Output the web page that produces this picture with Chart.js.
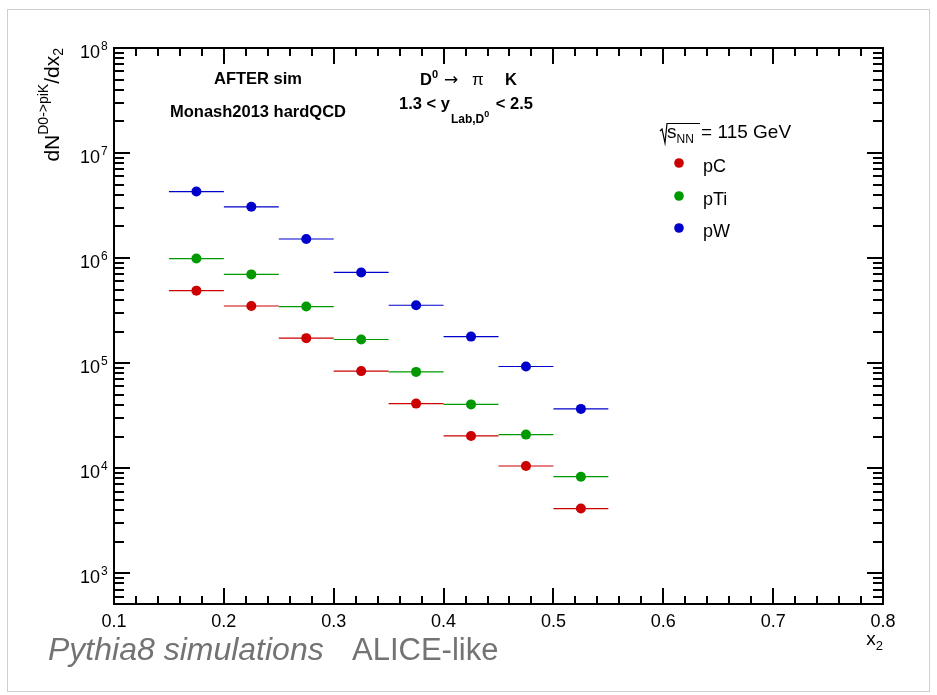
<!DOCTYPE html>
<html>
<head>
<meta charset="utf-8">
<script src="https://cdn.jsdelivr.net/npm/chart.js@4.4.1/dist/chart.umd.min.js"></script>
<style>
  html, body { margin: 0; padding: 0; background: #ffffff; }
  #wrap { position: relative; width: 937px; height: 695px; }
  canvas { display: block; }
</style>
</head>
<body>
<div id="wrap"><canvas id="c" width="937" height="695"></canvas></div>
<script>
// ---------------- data ----------------
const binCenters = [0.175, 0.225, 0.275, 0.325, 0.375, 0.425, 0.475, 0.525];
const binHalfWidths = [0.025, 0.025, 0.025, 0.025, 0.025, 0.025, 0.025, 0.025];
const pC  = [4.9e5, 3.5e5, 1.73e5, 8.4e4, 4.12e4, 2.03e4, 1.05e4, 4.13e3];
const pTi = [9.9e5, 7.0e5, 3.46e5, 1.68e5, 8.26e4, 4.05e4, 2.09e4, 8.3e3];
const pW  = [4.3e6, 3.08e6, 1.52e6, 7.3e5, 3.56e5, 1.79e5, 9.3e4, 3.67e4];
const seriesNames = ['pC', 'pTi', 'pW'];
const xTickValues = [0.1, 0.2, 0.3, 0.4, 0.5, 0.6, 0.7, 0.8];
const xTickLabels = ['0.1', '0.2', '0.3', '0.4', '0.5', '0.6', '0.7', '0.8'];
const yTickExponents = [3, 4, 5, 6, 7, 8];
const xRange = [0.1, 0.8];
const yRange = [510, 1e8];

// ---------------- styles ----------------
const colors = ['#cc0000', '#009900', '#0000cc'];
const FONT = '"Liberation Sans", Arial, Helvetica, sans-serif';

function toPoints(vals) {
  return binCenters.map((x, i) => ({ x: x, y: vals[i], ex: binHalfWidths[i] }));
}

function drawRich(ctx, x, y, pieces) {
  let cx = x;
  for (const p of pieces) {
    ctx.font = p.f;
    if (p.x !== undefined) cx = p.x;
    ctx.fillText(p.t, cx, y + (p.dy || 0));
    cx += ctx.measureText(p.t).width + (p.gap || 0);
  }
  return cx - x;
}
function richWidth(ctx, pieces) {
  let w = 0;
  for (const p of pieces) { ctx.font = p.f; w += ctx.measureText(p.t).width + (p.gap || 0); }
  return w;
}

const errorBars = {
  id: 'errorBars',
  beforeDatasetsDraw(chart) {
    const ctx = chart.ctx, xs = chart.scales.x, ys = chart.scales.y;
    ctx.save();
    chart.data.datasets.forEach((ds) => {
      ctx.strokeStyle = ds.backgroundColor;
      ctx.lineWidth = 1.2;
      ds.data.forEach(p => {
        const py = ys.getPixelForValue(p.y);
        ctx.beginPath();
        ctx.moveTo(xs.getPixelForValue(p.x - p.ex), py);
        ctx.lineTo(xs.getPixelForValue(p.x + p.ex), py);
        ctx.stroke();
      });
    });
    ctx.restore();
  }
};

const rootFrame = {
  id: 'rootFrame',
  afterDraw(chart) {
    const ctx = chart.ctx, xs = chart.scales.x, ys = chart.scales.y;
    const a = chart.chartArea;
    ctx.save();
    // outer canvas border
    ctx.strokeStyle = '#cfcfcf';
    ctx.lineWidth = 1;
    ctx.strokeRect(7.5, 9.5, 922, 682);

    // axis frame
    ctx.strokeStyle = '#000';
    ctx.lineWidth = 2;
    ctx.strokeRect(a.left, a.top, a.right - a.left, a.bottom - a.top);

    // x ticks (bottom and top, inward)
    for (let k = 0; k <= 35; k++) {
      const v = xRange[0] + k * 0.02;
      const px = Math.round(xs.getPixelForValue(v));
      const len = (k % 5 === 0) ? 16 : 8;
      ctx.beginPath();
      ctx.moveTo(px, a.bottom); ctx.lineTo(px, a.bottom - len);
      ctx.moveTo(px, a.top); ctx.lineTo(px, a.top + len);
      ctx.stroke();
    }
    // y ticks (left and right, inward)
    for (let e = 2; e <= 8; e++) {
      for (let m = 1; m <= 9; m++) {
        const v = m * Math.pow(10, e);
        if (v < yRange[0] || v > yRange[1] * 1.0001) continue;
        const py = Math.round(ys.getPixelForValue(v));
        const len = (m === 1) ? 16 : 10;
        ctx.beginPath();
        ctx.moveTo(a.left, py); ctx.lineTo(a.left + len, py);
        ctx.moveTo(a.right, py); ctx.lineTo(a.right - len, py);
        ctx.stroke();
      }
    }

    // x tick labels
    ctx.fillStyle = '#000';
    ctx.font = '18px ' + FONT;
    ctx.textAlign = 'center';
    ctx.textBaseline = 'alphabetic';
    xTickValues.forEach((v, i) => {
      ctx.fillText(xTickLabels[i], xs.getPixelForValue(v), 627);
    });
    // y tick labels 10^n
    yTickExponents.forEach(e => {
      const py = ys.getPixelForValue(Math.pow(10, e));
      ctx.textAlign = 'right';
      ctx.font = '18px ' + FONT;
      ctx.fillText('10', 100, py + 10);
      ctx.textAlign = 'left';
      ctx.font = '12px ' + FONT;
      ctx.fillText(String(e), 101, py + 2);
    });

    // x axis title x_2
    ctx.textAlign = 'left';
    const xt = [{ t: 'x', f: '19px ' + FONT }, { t: '2', f: '13px ' + FONT, dy: 5 }];
    drawRich(ctx, a.right - richWidth(ctx, xt), 645, xt);

    // y axis title
    const yt = [
      { t: 'dN', f: '21px ' + FONT },
      { t: 'D0->piK', f: '14px ' + FONT, dy: -11 },
      { t: '/dx', f: '21px ' + FONT },
      { t: '2', f: '14px ' + FONT, dy: 4 }
    ];
    const W = richWidth(ctx, yt);
    ctx.save();
    ctx.translate(59, a.top);
    ctx.rotate(-Math.PI / 2);
    drawRich(ctx, -W, 0, yt);
    ctx.restore();

    // header texts
    ctx.font = 'bold 16.5px ' + FONT;
    ctx.textAlign = 'center';
    ctx.fillText('AFTER sim', 258, 84);
    ctx.fillText('Monash2013 hardQCD', 258, 117);
    ctx.textAlign = 'left';
    drawRich(ctx, 420, 85, [
      { t: 'D', f: 'bold 16.5px ' + FONT },
      { t: '0', f: 'bold 11px ' + FONT, dy: -7 },
      { t: '\u2192', f: '17px "DejaVu Sans", ' + FONT, x: 444 },
      { t: '\u03C0', f: '17px ' + FONT, x: 472 },
      { t: 'K', f: 'bold 16.5px ' + FONT, x: 505 }
    ]);
    const ly = [
      { t: '1.3 < y', f: 'bold 16.5px ' + FONT, gap: 1 },
      { t: 'Lab,D', f: 'bold 12px ' + FONT, dy: 14 },
      { t: '0', f: 'bold 9px ' + FONT, dy: 8, gap: 2 },
      { t: ' < 2.5', f: 'bold 16.5px ' + FONT }
    ];
    drawRich(ctx, 533 - richWidth(ctx, ly), 109, ly);

    // legend header sqrt(s_NN) = 115 GeV
    ctx.strokeStyle = '#000';
    ctx.lineWidth = 1.2;
    ctx.beginPath();
    ctx.moveTo(660, 131); ctx.lineTo(662, 129); ctx.lineTo(665, 143);
    ctx.lineTo(667, 123.5); ctx.lineTo(700, 123.5);
    ctx.stroke();
    drawRich(ctx, 667, 138, [
      { t: 's', f: '19px ' + FONT },
      { t: 'NN', f: '12px ' + FONT, dy: 5, gap: 2 },
      { t: ' = 115 GeV', f: '19px ' + FONT }
    ]);
    // legend entries
    const legY = [163, 196, 228];
    seriesNames.forEach((n, i) => {
      ctx.fillStyle = colors[i];
      ctx.beginPath();
      ctx.arc(679, legY[i], 4.8, 0, Math.PI * 2);
      ctx.fill();
      ctx.fillStyle = '#000';
      ctx.font = '18px ' + FONT;
      ctx.fillText(n, 703, legY[i] + 9);
    });

    // bottom labels
    ctx.fillStyle = '#737373';
    ctx.font = 'italic 32px ' + FONT;
    ctx.fillText('Pythia8 simulations', 48, 660);
    ctx.font = '31px ' + FONT;
    ctx.fillText('ALICE-like', 352, 660);
    ctx.restore();
  }
};

new Chart(document.getElementById('c'), {
  type: 'scatter',
  data: {
    datasets: [pC, pTi, pW].map((vals, i) => ({
      label: seriesNames[i],
      data: toPoints(vals),
      backgroundColor: colors[i],
      borderColor: colors[i],
      pointRadius: 5,
      pointBorderWidth: 0,
      pointHoverRadius: 5
    }))
  },
  options: {
    responsive: false,
    animation: false,
    devicePixelRatio: 1,
    events: [],
    layout: { padding: { left: 114, right: 54, top: 48, bottom: 91 } },
    plugins: { legend: { display: false }, tooltip: { enabled: false } },
    scales: {
      x: { type: 'linear', min: xRange[0], max: xRange[1], display: false },
      y: { type: 'logarithmic', min: yRange[0], max: yRange[1], display: false }
    }
  },
  plugins: [errorBars, rootFrame]
});
</script>
</body>
</html>
